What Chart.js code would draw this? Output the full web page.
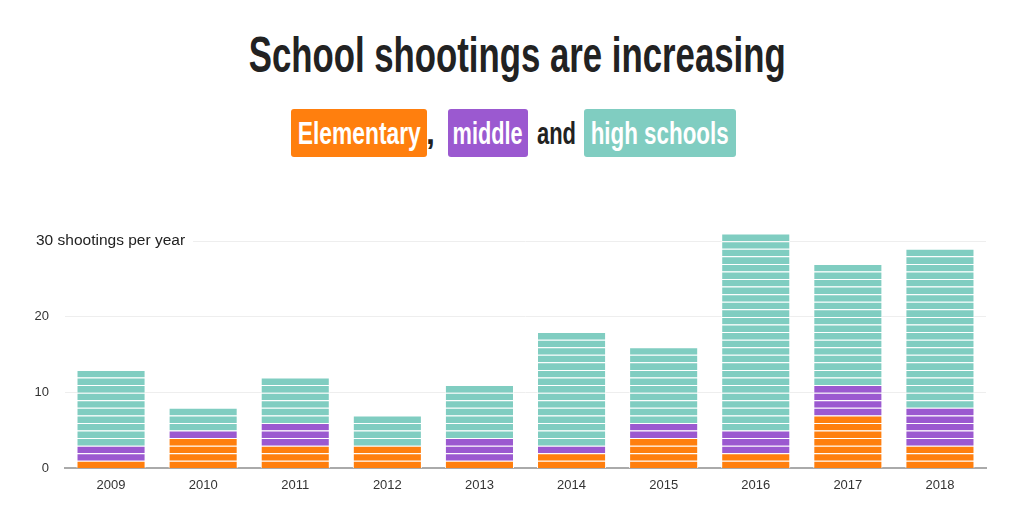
<!DOCTYPE html>
<html>
<head>
<meta charset="utf-8">
<script src="https://cdn.jsdelivr.net/npm/chart.js@4"></script>
<style>
  html, body { margin: 0; padding: 0; background: #fff; }
  body { width: 1035px; height: 527px; position: relative; overflow: hidden; }
  .title, .subtitle {
    position: absolute; left: 0; width: 1035px;
    font-family: "Liberation Sans Narrow", "Liberation Sans", sans-serif; font-weight: bold; color: #222;
    white-space: nowrap;
  }
  .title { top: 24px; font-size: 50px; line-height: 62px; text-align: center; }
  .subtitle { top: 109px; left: -4px; font-size: 32px; line-height: 48px; display: flex; justify-content: center; }
  .title .fit { display: inline-block; transform-origin: center top; }
  .piece { display: inline-flex; justify-content: center; align-items: center; height: 48px; }
  .piece .fit { display: inline-block; flex: none; transform-origin: center center; }
  .tag { color: #fff; border-radius: 3px; }
  .el { background: #ff7f0e; width: 136px; }
  .mi { background: #9b59d0; width: 80px; margin-left: 14px; }
  .hi { background: #80cdc1; width: 152px; }
  .comma { width: 7px; }
  .and { width: 39px; margin: 0 8px 0 9px; }
  #wrap { position: absolute; left: 0; top: 190px; width: 1035px; height: 318px; }
</style>
</head>
<body>
<div class="title"><span class="fit" id="titleText">School shootings are increasing</span></div>
<div class="subtitle">
  <span class="piece tag el"><span class="fit" id="tEl">Elementary</span></span>
  <span class="piece comma"><span class="fit">,</span></span>
  <span class="piece tag mi"><span class="fit" id="tMi">middle</span></span>
  <span class="piece and"><span class="fit" id="tAnd">and</span></span>
  <span class="piece tag hi"><span class="fit" id="tHi">high schools</span></span>
</div>
<div id="wrap"><canvas id="chart"></canvas></div>
<script>
const years = ["2009", "2010", "2011", "2012", "2013", "2014", "2015", "2016", "2017", "2018"];
const elementary = [1, 4, 3, 3, 1, 2, 4, 2, 7, 3];
const middle = [2, 1, 3, 0, 3, 1, 2, 3, 4, 5];
const high = [10, 3, 6, 4, 7, 15, 10, 26, 16, 21];
const yTicks = [0, 10, 20, 30];
const yAxisNote = "30 shootings per year";

const colors = { elementary: "#ff7f0e", middle: "#9b59d0", high: "#80cdc1" };

// squeeze the headline text to the condensed width of the original
function fitWidth(id, target) {
  const el = document.getElementById(id);
  el.style.transform = `scaleX(${target / el.getBoundingClientRect().width})`;
}
fitWidth("titleText", 537);
fitWidth("tEl", 123);
fitWidth("tMi", 70);
fitWidth("tAnd", 39);
fitWidth("tHi", 138);

// every shooting is its own segment, so split each series into unit datasets
function unitDatasets(values, color) {
  const sets = [];
  const maxVal = Math.max(...values);
  for (let k = 0; k < maxVal; k++) {
    sets.push({
      data: values.map((v) => (v > k ? 1 : null)),
      backgroundColor: color,
      borderColor: "#fff",
      borderWidth: { top: 1, bottom: 0, left: 1, right: 1 },
      borderSkipped: false,
    });
  }
  return sets;
}

const datasets = [
  ...unitDatasets(elementary, colors.elementary),
  ...unitDatasets(middle, colors.middle),
  ...unitDatasets(high, colors.high),
];

const axisNote = {
  id: "axisNote",
  afterDraw(chart) {
    const ctx = chart.ctx;
    const y = chart.scales.y.getPixelForValue(30);
    ctx.save();
    ctx.font = "15.5px 'Liberation Sans', Arial, sans-serif";
    const w = ctx.measureText(yAxisNote).width;
    ctx.fillStyle = "#fff";
    ctx.fillRect(30, y - 9, w + 14, 18);
    ctx.fillStyle = "#222";
    ctx.textBaseline = "middle";
    ctx.textAlign = "left";
    ctx.fillText(yAxisNote, 36, y);
    ctx.restore();
  },
};

new Chart(document.getElementById("chart"), {
  type: "bar",
  data: { labels: years, datasets },
  options: {
    responsive: true,
    maintainAspectRatio: false,
    animation: false,
    categoryPercentage: 0.75,
    barPercentage: 1,
    layout: { padding: { top: 36, right: 49, left: 0, bottom: 14 } },
    plugins: { legend: { display: false }, tooltip: { enabled: false } },
    scales: {
      x: {
        stacked: true,
        grid: { display: false },
        border: { color: "#aaa", width: 2 },
        ticks: { color: "#333", font: { family: "Liberation Sans", size: 13 }, padding: 1 },
      },
      y: {
        stacked: true,
        min: 0,
        max: 32,
        afterBuildTicks: (scale) => {
          scale.ticks = yTicks.map((v) => ({ value: v }));
        },
        afterFit: (scale) => { scale.width = 65; },
        grid: { color: "#eee", drawTicks: false },
        border: { display: false },
        ticks: {
          color: "#333",
          font: { family: "Liberation Sans", size: 13 },
          padding: 16,
          callback: (v) => (v === 30 ? "" : v),
        },
      },
    },
  },
  plugins: [axisNote],
});
</script>
</body>
</html>
